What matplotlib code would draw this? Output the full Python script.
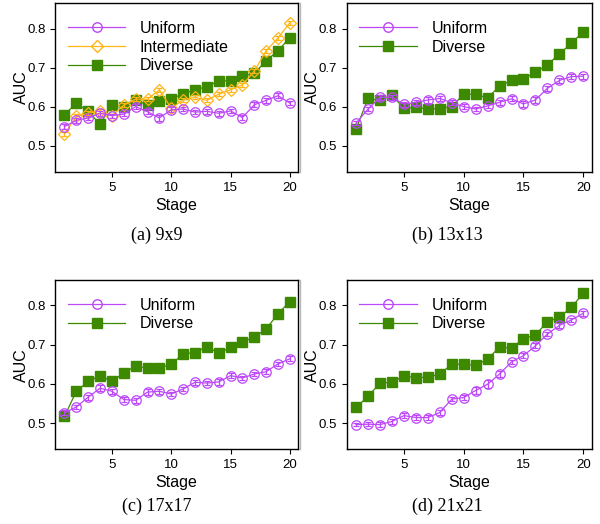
import matplotlib
matplotlib.use("Agg")
import matplotlib.pyplot as plt
from matplotlib.lines import Line2D

plt.rcParams['font.family'] = ['Liberation Sans', 'DejaVu Sans']

stages = list(range(1, 21))

# (a) 9x9
a_uniform = [0.549, 0.565, 0.571, 0.583, 0.577, 0.581, 0.600, 0.587, 0.571, 0.592,
             0.594, 0.586, 0.588, 0.583, 0.589, 0.572, 0.605, 0.616, 0.628, 0.609]
a_uniform_err = [0.006, 0.006, 0.006, 0.006, 0.005, 0.006, 0.006, 0.006, 0.007, 0.006,
                 0.006, 0.006, 0.006, 0.006, 0.006, 0.007, 0.006, 0.006, 0.006, 0.006]
a_inter = [0.530, 0.575, 0.583, 0.589, 0.577, 0.604, 0.619, 0.619, 0.643, 0.596,
           0.617, 0.624, 0.616, 0.632, 0.643, 0.656, 0.691, 0.743, 0.776, 0.815]
a_inter_err = [0.005] * 20
a_diverse = [0.579, 0.609, 0.588, 0.555, 0.605, 0.599, 0.617, 0.604, 0.615, 0.620,
             0.633, 0.643, 0.651, 0.666, 0.666, 0.678, 0.685, 0.718, 0.743, 0.777]

# (b) 13x13
b_uniform = [0.558, 0.594, 0.624, 0.624, 0.606, 0.611, 0.617, 0.621, 0.610, 0.600,
             0.594, 0.602, 0.611, 0.620, 0.607, 0.617, 0.647, 0.667, 0.677, 0.678]
b_uniform_err = [0.006, 0.006, 0.006, 0.006, 0.006, 0.006, 0.007, 0.007, 0.006, 0.006,
                 0.006, 0.006, 0.006, 0.006, 0.007, 0.008, 0.006, 0.006, 0.006, 0.006]
b_diverse = [0.543, 0.621, 0.616, 0.629, 0.596, 0.598, 0.594, 0.595, 0.600, 0.632,
             0.632, 0.622, 0.653, 0.667, 0.671, 0.688, 0.707, 0.735, 0.762, 0.792]

# (c) 17x17
c_uniform = [0.526, 0.541, 0.566, 0.589, 0.581, 0.560, 0.558, 0.579, 0.581, 0.574,
             0.587, 0.604, 0.602, 0.605, 0.621, 0.615, 0.625, 0.631, 0.651, 0.664]
c_uniform_err = [0.006, 0.006, 0.006, 0.007, 0.006, 0.006, 0.006, 0.007, 0.007, 0.006,
                 0.006, 0.006, 0.006, 0.007, 0.006, 0.006, 0.006, 0.006, 0.006, 0.006]
c_diverse = [0.517, 0.581, 0.606, 0.621, 0.606, 0.628, 0.645, 0.640, 0.640, 0.650,
             0.676, 0.680, 0.695, 0.678, 0.693, 0.707, 0.719, 0.740, 0.779, 0.810]

# (d) 21x21
d_uniform = [0.496, 0.497, 0.496, 0.504, 0.519, 0.514, 0.514, 0.527, 0.561, 0.565,
             0.583, 0.599, 0.625, 0.656, 0.672, 0.697, 0.727, 0.749, 0.763, 0.780]
d_uniform_err = [0.004, 0.005, 0.006, 0.006, 0.006, 0.006, 0.006, 0.007, 0.006, 0.006,
                 0.010, 0.010, 0.008, 0.006, 0.006, 0.006, 0.006, 0.006, 0.006, 0.006]
d_diverse = [0.540, 0.568, 0.602, 0.604, 0.620, 0.616, 0.617, 0.625, 0.650, 0.650,
             0.647, 0.663, 0.694, 0.691, 0.715, 0.725, 0.758, 0.770, 0.795, 0.831]

captions = ['(a) 9x9', '(b) 13x13', '(c) 17x17', '(d) 21x21']

purple = '#BC48F8'
orange = '#FFB515'
green = '#3D8A00'

fig = plt.figure(figsize=(6, 5.24), dpi=100)

rects = [[0.092, 0.672, 0.405, 0.322],
         [0.578, 0.672, 0.408, 0.322],
         [0.092, 0.1426, 0.405, 0.323],
         [0.578, 0.1426, 0.408, 0.323]]

panels = [
    (a_uniform, a_uniform_err, a_inter, a_inter_err, a_diverse),
    (b_uniform, b_uniform_err, None, None, b_diverse),
    (c_uniform, c_uniform_err, None, None, c_diverse),
    (d_uniform, d_uniform_err, None, None, d_diverse),
]

for i, (rect, p) in enumerate(zip(rects, panels)):
    uni, uni_err, inter, inter_err, div = p
    ax = fig.add_axes(rect)

    ax.plot(stages, div, color=green, lw=0.9, marker='s', ms=6.8,
            mfc=green, mec=green, zorder=2)
    if inter is not None:
        ax.errorbar(stages, inter, yerr=inter_err, color=orange, lw=0.9,
                    marker='D', ms=6.3, mfc='none', mec=orange, mew=0.9,
                    elinewidth=0.9, capsize=2, zorder=3)
    ax.errorbar(stages, uni, yerr=uni_err, color=purple, lw=0.9,
                marker='o', ms=6.8, mfc='none', mec=purple, mew=0.9,
                elinewidth=0.9, capsize=2, zorder=4)

    handles = [Line2D([], [], color=purple, lw=0.9, marker='o', ms=6.8,
                      mfc='none', mec=purple)]
    labels = ['Uniform']
    if inter is not None:
        handles.append(Line2D([], [], color=orange, lw=0.9, marker='D', ms=6.3,
                              mfc='none', mec=orange))
        labels.append('Intermediate')
    handles.append(Line2D([], [], color=green, lw=0.9, marker='s', ms=6.8,
                          mfc=green, mec=green))
    labels.append('Diverse')
    ax.legend(handles, labels, loc='upper left', bbox_to_anchor=(-0.02, 1.0),
              frameon=False, fontsize=11.5,
              handlelength=3.6, handletextpad=0.9, labelspacing=0.24,
              borderpad=0.4, borderaxespad=0.7)

    ax.set_xlim(0.22, 20.7)
    ax.set_ylim(0.433, 0.865)
    ax.set_xticks([5, 10, 15, 20])
    ax.set_yticks([0.5, 0.6, 0.7, 0.8])
    ax.set_yticklabels(['0.5', '0.6', '0.7', '0.8'])
    ax.tick_params(labelsize=9.5, length=3.5, width=0.8)
    for s in ax.spines.values():
        s.set_linewidth(1.0)
    ax.set_xlabel('Stage', fontsize=11.5, labelpad=3)
    ax.set_ylabel('AUC', fontsize=11.5, labelpad=-1)

# captions
cap_pos = [(0.262, 0.551), (0.746, 0.551), (0.262, 0.034), (0.746, 0.034)]
for (x, y), c in zip(cap_pos, captions):
    fig.text(x, y, c, ha='center', va='center', fontsize=13,
             family=['Liberation Serif', 'DejaVu Serif'])

# thin grey separator lines at left of right-hand images
for r in (rects[1], rects[3]):
    fig.add_artist(Line2D([0.5, 0.5], [r[1], r[1] + r[3]], color='#b8b8b8',
                          lw=1.0, transform=fig.transFigure))

fig.savefig('out.png', dpi=100)
